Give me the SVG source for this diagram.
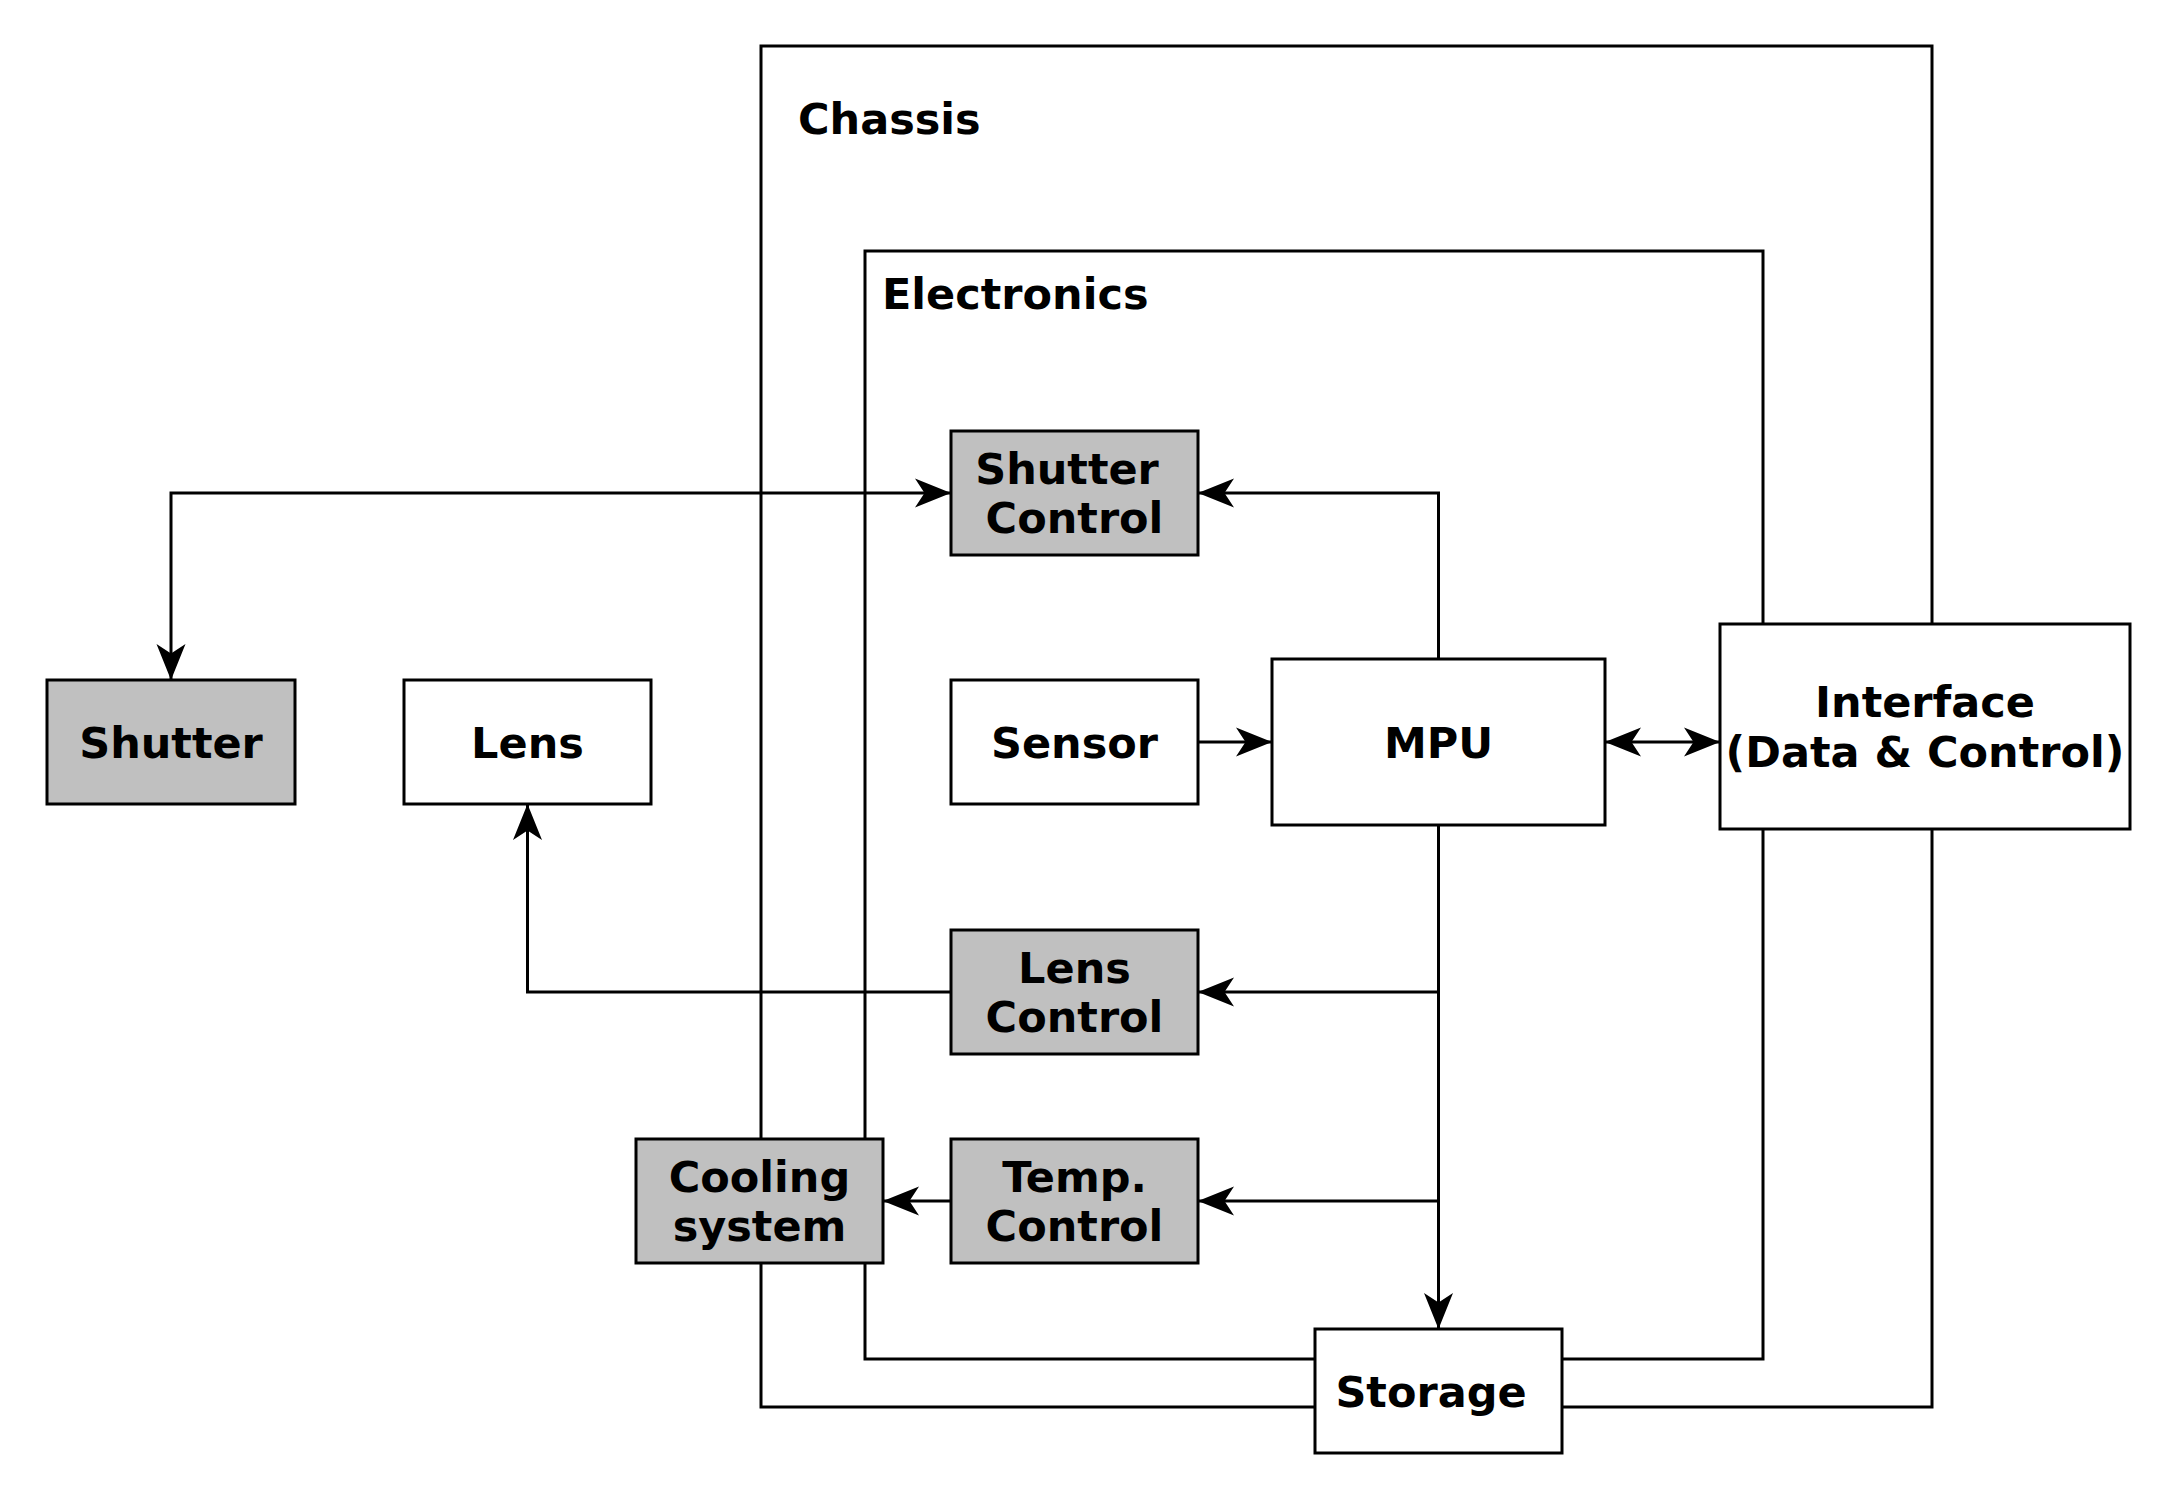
<svg xmlns="http://www.w3.org/2000/svg" width="2177" height="1500" viewBox="0 0 2177 1500">
<style>
.box{stroke:#000;stroke-width:3;fill:#fff}
.g{fill:#c0c0c0}
.cont{stroke:#000;stroke-width:3;fill:none}
.t{font-family:"DejaVu Sans","Liberation Sans",sans-serif;font-weight:bold;font-size:43px;fill:#000;text-anchor:middle}
.tl{font-family:"DejaVu Sans","Liberation Sans",sans-serif;font-weight:bold;font-size:43px;fill:#000}
.c{stroke:#000;stroke-width:3;fill:none}
.e{marker-end:url(#arr)}
.s{marker-start:url(#arr)}
</style>
<defs>
<marker id="arr" markerUnits="userSpaceOnUse" viewBox="-37 -16 38 32" refX="0" refY="0" markerWidth="38" markerHeight="32" orient="auto-start-reverse">
<path d="M0,0 L-36,-14.5 L-26.5,0 L-36,14.5 Z" fill="#000"/>
</marker>
</defs>
<rect width="2177" height="1500" fill="#fff"/>
<g id="chassis">
<rect class="cont" x="761" y="46" width="1171" height="1361"/>
<text class="tl" x="798" y="133.5">Chassis</text>
</g>
<g id="electronics">
<rect class="cont" x="865" y="251" width="898" height="1108"/>
<text class="tl" x="882" y="309">Electronics</text>
</g>
<g id="connectors">
<path class="c s e" d="M171,680 V493 H951"/>
<path class="c e" d="M1438.5,659 V493 H1198"/>
<path class="c e" d="M1198,742 H1272"/>
<path class="c s e" d="M1605,742 H1720"/>
<path class="c e" d="M1438.5,825 V1329"/>
<path class="c e" d="M1438.5,992 H1198"/>
<path class="c e" d="M1438.5,1201 H1198"/>
<path class="c e" d="M951,1201 H883"/>
<path class="c e" d="M951,992 H527.5 V804"/>
</g>
<g id="shutter">
<rect class="box g" x="47" y="680" width="248" height="124"/>
<text class="t" x="171" y="757.5">Shutter</text>
</g>
<g id="lens">
<rect class="box" x="404" y="680" width="247" height="124"/>
<text class="t" x="527.5" y="757.5">Lens</text>
</g>
<g id="shutter-control">
<rect class="box g" x="951" y="431" width="247" height="124"/>
<text class="t" x="1067" y="483.5">Shutter</text>
<text class="t" x="1074.5" y="533">Control</text>
</g>
<g id="sensor">
<rect class="box" x="951" y="680" width="247" height="124"/>
<text class="t" x="1074.5" y="757.5">Sensor</text>
</g>
<g id="mpu">
<rect class="box" x="1272" y="659" width="333" height="166"/>
<text class="t" x="1438.5" y="757.5">MPU</text>
</g>
<g id="interface">
<rect class="box" x="1720" y="624" width="410" height="205"/>
<text class="t" x="1925" y="717">Interface</text>
<text class="t" x="1925" y="766.5">(Data &amp; Control)</text>
</g>
<g id="lens-control">
<rect class="box g" x="951" y="930" width="247" height="124"/>
<text class="t" x="1074.5" y="982.5">Lens</text>
<text class="t" x="1074.5" y="1032">Control</text>
</g>
<g id="temp-control">
<rect class="box g" x="951" y="1139" width="247" height="124"/>
<text class="t" x="1074.5" y="1191.5">Temp.</text>
<text class="t" x="1074.5" y="1241">Control</text>
</g>
<g id="cooling-system">
<rect class="box g" x="636" y="1139" width="247" height="124"/>
<text class="t" x="759.5" y="1191.5">Cooling</text>
<text class="t" x="759.5" y="1241">system</text>
</g>
<g id="storage">
<rect class="box" x="1315" y="1329" width="247" height="124"/>
<text class="t" x="1431" y="1406.5">Storage</text>
</g>
</svg>
